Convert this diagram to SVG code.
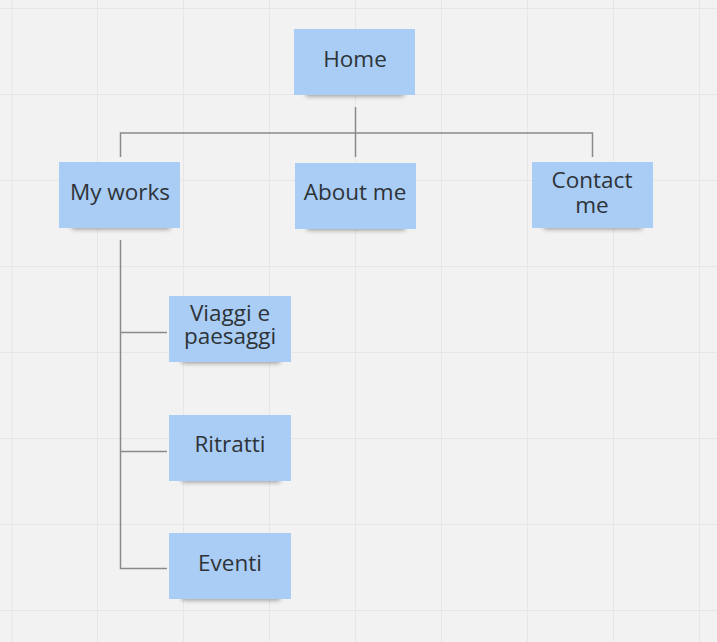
<svg xmlns="http://www.w3.org/2000/svg" width="717" height="642" viewBox="0 0 717 642">
<defs>
<filter id="sh" x="-20%" y="-100%" width="140%" height="300%"><feGaussianBlur stdDeviation="2.5"/></filter>
<style>
.grid line{stroke:#e6e6e6;stroke-width:1}
.note{fill:#a9cdf4}
.shadow{fill:#000;opacity:0.4;filter:url(#sh)}
.lbl{font-family:"Open Sans","Noto Sans",sans-serif;font-size:22.5px;fill:#2e3338;text-anchor:middle}
.conn path{fill:none;stroke:#8a8a8a;stroke-width:1.5}
</style>
</defs>
<rect width="717" height="642" fill="#f2f2f2"/>
<g class="grid">
<line x1="12" y1="0" x2="12" y2="642"/><line x1="97.5" y1="0" x2="97.5" y2="642"/><line x1="183.5" y1="0" x2="183.5" y2="642"/><line x1="269.5" y1="0" x2="269.5" y2="642"/><line x1="355.5" y1="0" x2="355.5" y2="642"/><line x1="441.5" y1="0" x2="441.5" y2="642"/><line x1="527.5" y1="0" x2="527.5" y2="642"/><line x1="613.5" y1="0" x2="613.5" y2="642"/><line x1="699.5" y1="0" x2="699.5" y2="642"/>
<line x1="0" y1="8.5" x2="717" y2="8.5"/><line x1="0" y1="94.5" x2="717" y2="94.5"/><line x1="0" y1="180.5" x2="717" y2="180.5"/><line x1="0" y1="266.5" x2="717" y2="266.5"/><line x1="0" y1="352.5" x2="717" y2="352.5"/><line x1="0" y1="438.5" x2="717" y2="438.5"/><line x1="0" y1="524.5" x2="717" y2="524.5"/><line x1="0" y1="610.5" x2="717" y2="610.5"/>
</g>
<g class="conn" id="connectors">
<path d="M355.5 107 V133 M120.5 157 V133 H592.5 V157 M355.5 133 V157"/>
<path d="M120.5 240 V568.5 H167 M120.5 332.5 H167 M120.5 451.5 H167"/>
</g>
<g id="home"><rect class="shadow" x="306" y="89" width="98" height="7"/><rect class="note" x="294" y="29" width="121" height="66"/><text class="lbl" x="355" y="67">Home</text></g>
<g id="myworks"><rect class="shadow" x="72" y="222" width="98" height="7"/><rect class="note" x="59" y="162" width="121" height="66"/><text class="lbl" x="120" y="200">My works</text></g>
<g id="aboutme"><rect class="shadow" x="307" y="223" width="98" height="7"/><rect class="note" x="295" y="163" width="121" height="66"/><text class="lbl" x="355" y="200">About me</text></g>
<g id="contactme"><rect class="shadow" x="544" y="222" width="98" height="7"/><rect class="note" x="532" y="162" width="121" height="66"/><text class="lbl" x="592" y="188">Contact<tspan x="592" dy="25">me</tspan></text></g>
<g id="viaggi"><rect class="shadow" x="182" y="356" width="98" height="7"/><rect class="note" x="169" y="296" width="122" height="66"/><text class="lbl" x="230" y="321">Viaggi e<tspan x="230" dy="23">paesaggi</tspan></text></g>
<g id="ritratti"><rect class="shadow" x="182" y="475" width="98" height="7"/><rect class="note" x="169" y="415" width="122" height="66"/><text class="lbl" x="230" y="452">Ritratti</text></g>
<g id="eventi"><rect class="shadow" x="182" y="593" width="98" height="7"/><rect class="note" x="169" y="533" width="122" height="66"/><text class="lbl" x="230" y="571">Eventi</text></g>
</svg>
